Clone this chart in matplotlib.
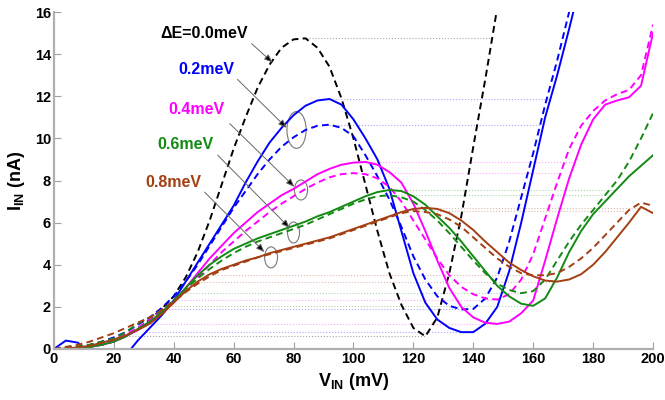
import matplotlib
matplotlib.use('Agg')
import matplotlib.pyplot as plt
import numpy as np
from matplotlib.patches import Ellipse

plt.rcParams['font.family'] = ['Liberation Sans', 'DejaVu Sans']
plt.rcParams['font.weight'] = 'bold'
plt.rcParams['mathtext.fontset'] = 'custom'
plt.rcParams['mathtext.rm'] = 'Liberation Sans:bold'
plt.rcParams['mathtext.bf'] = 'Liberation Sans:bold'
plt.rcParams['mathtext.it'] = 'Liberation Sans:bold'

# 电压网格 (mV)
v_in = np.arange(0, 201, 4)

# 电流数据 (nA)，实线/虚线
k_dash = [0, 0.02, 0.05, 0.1, 0.2, 0.35, 0.6, 0.95, 1.4, 1.9, 2.5, 3.4, 4.6, 6.1, 7.8, 9.5,
          11.0, 12.4, 13.5, 14.3, 14.7, 14.75, 14.3, 13.4, 11.9, 10.0, 7.8, 5.6, 3.6, 2.1, 1.0,
          0.6, 1.5, 3.6, 6.3, 9.6, 12.8, 16.2, 19.5, 23, 26, 26, 26, 26, 26, 26, 26, 26, 26, 26, 26]
b_solid = [0, 0.4, 0.3, -0.2, -0.8, -0.9, -0.3, 0.4, 1.0, 1.6, 2.3, 3.2, 4.1, 5.0, 5.9, 6.8,
           7.9, 8.9, 9.8, 10.5, 11.1, 11.55, 11.8, 11.87, 11.6, 10.9, 10.0, 9.0, 7.6, 5.6, 3.6,
           2.2, 1.4, 1.0, 0.8, 0.8, 1.2, 2.0, 3.7, 6.0, 8.5, 11.0, 13.0, 15.2, 17.5, 20, 22, 24, 26, 28, 30]
b_dash = [0, 0.05, 0.1, 0.2, 0.35, 0.55, 0.8, 1.15, 1.5, 1.95, 2.5, 3.2, 4.0, 4.9, 5.8, 6.7,
          7.5, 8.3, 9.0, 9.6, 10.05, 10.4, 10.6, 10.65, 10.5, 10.1, 9.2, 8.2, 7.1, 5.8, 4.4,
          3.3, 2.5, 2.05, 1.88, 1.9, 2.4, 3.4, 5.1, 7.2, 9.3, 11.6, 13.7, 16.0, 18.2, 20, 22, 24, 26, 28, 30]
m_solid = [0, 0, 0.02, 0.1, 0.2, 0.35, 0.6, 0.9, 1.25, 1.7, 2.2, 2.9, 3.6, 4.3, 4.9, 5.5,
           6.0, 6.5, 6.9, 7.3, 7.6, 7.95, 8.3, 8.55, 8.75, 8.85, 8.88, 8.75, 8.4, 7.9, 6.9,
           5.6, 4.2, 2.9, 2.0, 1.5, 1.25, 1.19, 1.3, 1.7, 2.3, 4.2, 6.2, 8.1, 9.7, 10.9, 11.6,
           11.8, 11.95, 12.5, 15.0]
m_dash = [0, 0.02, 0.05, 0.12, 0.25, 0.45, 0.7, 1.0, 1.4, 1.85, 2.3, 2.85, 3.4, 4.0, 4.6, 5.1,
          5.6, 6.05, 6.5, 6.9, 7.25, 7.6, 7.9, 8.15, 8.3, 8.35, 8.3, 8.1, 7.7, 7.0, 6.1,
          5.2, 4.3, 3.5, 2.95, 2.6, 2.4, 2.35, 2.6, 3.3, 4.5, 6.2, 7.9, 9.5, 10.6, 11.3, 11.8,
          12.1, 12.3, 13.0, 15.4]
g_solid = [0, 0, 0.03, 0.1, 0.2, 0.35, 0.6, 0.95, 1.3, 1.75, 2.25, 2.9, 3.5, 4.0, 4.4, 4.75,
           5.0, 5.25, 5.45, 5.65, 5.85, 6.05, 6.3, 6.5, 6.75, 7.0, 7.25, 7.45, 7.55, 7.5, 7.25,
           6.85, 6.3, 5.75, 5.1, 4.4, 3.7, 3.0, 2.5, 2.15, 2.05, 2.4, 3.4, 4.6, 5.6, 6.4, 7.0,
           7.6, 8.2, 8.7, 9.2]
g_dash = [0, 0.05, 0.12, 0.2, 0.35, 0.5, 0.8, 1.2, 1.5, 1.85, 2.3, 2.85, 3.35, 3.8, 4.2, 4.55,
          4.85, 5.1, 5.3, 5.5, 5.7, 5.9, 6.15, 6.4, 6.65, 6.9, 7.1, 7.25, 7.3, 7.2, 7.0,
          6.6, 6.1, 5.5, 4.85, 4.2, 3.6, 3.1, 2.8, 2.65, 2.75, 3.3, 4.2, 5.1, 5.9, 6.6, 7.3,
          8.0, 8.9, 10.0, 11.2]
r_solid = [0, 0.02, 0.08, 0.15, 0.3, 0.45, 0.65, 0.9, 1.2, 1.65, 2.2, 2.75, 3.2, 3.55, 3.8, 4.0,
           4.2, 4.35, 4.55, 4.7, 4.85, 5.0, 5.15, 5.3, 5.5, 5.7, 5.9, 6.1, 6.3, 6.5, 6.65,
           6.7, 6.65, 6.45, 6.1, 5.65, 5.1, 4.6, 4.1, 3.75, 3.45, 3.25, 3.2, 3.3, 3.55, 4.0, 4.6,
           5.3, 6.0, 6.75, 6.45]
r_dash = [0, 0.1, 0.2, 0.35, 0.55, 0.75, 1.0, 1.25, 1.5, 1.85, 2.25, 2.7, 3.1, 3.45, 3.75, 3.95,
          4.15, 4.35, 4.5, 4.65, 4.8, 4.95, 5.1, 5.25, 5.45, 5.65, 5.85, 6.05, 6.25, 6.45, 6.55,
          6.5, 6.4, 6.15, 5.8, 5.3, 4.8, 4.3, 3.9, 3.6, 3.5, 3.5, 3.6, 3.9, 4.3, 4.8, 5.4,
          6.0, 6.6, 6.95, 6.8]

c_blue = '#0000ff'
c_mag = '#ff00ff'
c_green = '#138a13'
c_brown = '#a33f12'

series = [
    (k_dash, 'k', '--'),
    (b_solid, c_blue, '-'), (b_dash, c_blue, '--'),
    (m_solid, c_mag, '-'), (m_dash, c_mag, '--'),
    (g_solid, c_green, '-'), (g_dash, c_green, '--'),
    (r_solid, c_brown, '-'), (r_dash, c_brown, '--'),
]

fig = plt.figure(figsize=(6.65, 4.0), dpi=100)
ax = fig.add_axes([0.081, 0.1275, 0.901, 0.8425])

# 峰谷水平虚线
for y, c, ls in series:
    y = np.array(y, dtype=float)
    ip = int(np.argmax(y[:34]))
    iv = ip + int(np.argmin(y[ip:46]))
    # 峰值线：峰值 -> 回升段到达同一电流
    rise = y[iv:]
    j = np.argmax(rise >= y[ip]) if np.any(rise >= y[ip]) else len(rise) - 1
    x_end = np.interp(y[ip], rise[:j + 1], v_in[iv:iv + j + 1]) if j > 0 else 200
    ax.plot([v_in[ip], x_end], [y[ip], y[ip]], ':', color=c, lw=0.8, alpha=0.35)
    # 谷值线：上升段到达谷值电流 -> 谷值
    left = y[:ip + 1]
    k = int(np.argmax(left >= y[iv]))
    x_start = np.interp(y[iv], left[max(k - 1, 0):k + 1], v_in[max(k - 1, 0):k + 1])
    ax.plot([x_start, v_in[iv]], [y[iv], y[iv]], ':', color=c, lw=0.8, alpha=0.35)

for y, c, ls in series:
    ax.plot(v_in, y, ls, color=c, lw=1.4, dashes=(3.5, 2.2) if ls == '--' else (None, None))

# 标注
labels = ['\u0394E=0.0meV', '0.2meV', '0.4meV', '0.6meV', '0.8meV']
label_colors = ['k', c_blue, c_mag, c_green, c_brown]
label_xy = [(50, 15.0), (51, 13.25), (47.7, 11.35), (44, 9.7), (40, 7.9)]
arrow_from = [(66, 14.5), (61.3, 12.8), (58.7, 10.7), (54.7, 9.2), (50.3, 7.45)]
arrow_to = [(73, 13.6), (77.7, 10.5), (80.3, 7.7), (78.7, 5.75), (70.3, 4.6)]
ellipses = [(81, 10.4, 6.4, 1.75), (82.5, 7.55, 4.4, 0.95), (80, 5.53, 4.0, 1.0), (72.5, 4.35, 4.3, 1.0)]

for t, c, xy in zip(labels, label_colors, label_xy):
    ax.text(xy[0], xy[1], t, color=c, fontsize=11.5, fontweight='bold', ha='center', va='center')
for a, b in zip(arrow_from, arrow_to):
    ax.annotate('', xy=b, xytext=a,
                arrowprops=dict(arrowstyle='-|>,head_length=0.5,head_width=0.2',
                                fc='k', ec='#666666', lw=0.7, shrinkA=0, shrinkB=0))
for cx, cy, w, h in ellipses:
    ax.add_patch(Ellipse((cx, cy), w, h, fill=False, ec='#777777', lw=0.8))

ax.set_xlim(0, 200)
ax.set_ylim(0, 16)
ax.set_xticks(np.arange(0, 201, 20))
ax.set_yticks(np.arange(0, 17, 2))
for s in ['top', 'right']:
    ax.spines[s].set_visible(False)
for s in ['left', 'bottom']:
    ax.spines[s].set_color('#b0b0b0')
    ax.spines[s].set_linewidth(1.6)
ax.tick_params(direction='in', length=5, color='#a0a0a0', labelsize=10.5, pad=2)
for lab in ax.get_xticklabels() + ax.get_yticklabels():
    lab.set_fontweight('bold')
ax.set_xlabel(r'$\mathregular{V_{IN}}$ (mV)', fontsize=13, fontweight='bold', labelpad=4)
ax.set_ylabel(r'$\mathregular{I_{IN}}$ (nA)', fontsize=13, fontweight='bold', labelpad=6)

fig.savefig('out.png', dpi=100)
